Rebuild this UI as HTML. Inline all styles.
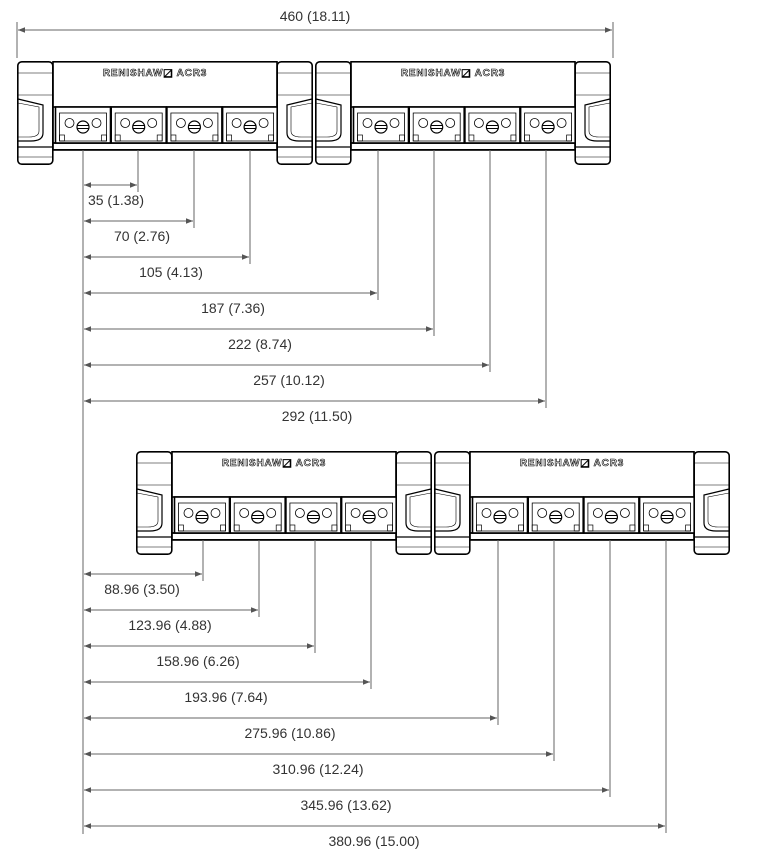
<!DOCTYPE html>
<html><head><meta charset="utf-8"><style>
body{margin:0;background:#fff;}
svg{display:block;font-family:"Liberation Sans",sans-serif;}
.t{font-size:14px;fill:#333;text-anchor:middle;}
.d{stroke:#666;stroke-width:1;fill:none;}
</style></head><body>
<svg width="760" height="866" viewBox="0 0 760 866" xmlns="http://www.w3.org/2000/svg">
<defs>
<marker id="a" viewBox="0 0 10 10" refX="10" refY="5" markerWidth="10" markerHeight="7" orient="auto-start-reverse" markerUnits="userSpaceOnUse"><path d="M0,1 L10,5 L0,9 z" fill="#555"/></marker>
<g id="port">
<rect x="0" y="0" width="55" height="36" fill="#fff" stroke="#000" stroke-width="1.6"/>
<path d="M4,6 H51 V34 H4 Z" fill="none" stroke="#000" stroke-width="0.8"/>
<circle cx="14" cy="16" r="4.5" fill="#fff" stroke="#000" stroke-width="0.8"/>
<circle cx="41" cy="16" r="4.5" fill="#fff" stroke="#000" stroke-width="0.8"/>
<circle cx="27.5" cy="20" r="6" fill="#fff" stroke="#000" stroke-width="1.2"/>
<line x1="21.5" y1="18.5" x2="33.5" y2="18.5" stroke="#000" stroke-width="1"/>
<line x1="21.5" y1="21.5" x2="33.5" y2="21.5" stroke="#000" stroke-width="1"/>
<rect x="4" y="28" width="5" height="6" fill="none" stroke="#000" stroke-width="0.7"/>
<rect x="46" y="28" width="5" height="6" fill="none" stroke="#000" stroke-width="0.7"/>
</g>
<g id="blk">
<rect x="0.8" y="0.8" width="35" height="102.4" rx="4" fill="#fff" stroke="#000" stroke-width="1.6"/>
<line x1="1" y1="12" x2="36" y2="12" stroke="#000" stroke-width="0.6"/>
<line x1="1" y1="34" x2="36" y2="34" stroke="#000" stroke-width="0.6"/>
<path d="M1,38 L26,44 L26,72 Q26,80 14,80 L1,80" fill="none" stroke="#000" stroke-width="1.2"/>
<path d="M1,42 L22,46 L22,70 Q22,76 12,76 L1,76" fill="none" stroke="#000" stroke-width="0.6"/>
<line x1="1" y1="86" x2="36" y2="86" stroke="#000" stroke-width="1.2"/>
<line x1="1" y1="96" x2="36" y2="96" stroke="#000" stroke-width="0.6"/>
</g>
<g id="mod">
<rect x="36" y="0.8" width="224" height="88" fill="#fff" stroke="#000" stroke-width="1.6"/>
<rect x="36" y="46" width="224" height="36" fill="#fff" stroke="#000" stroke-width="1.6"/>
<line x1="36" y1="82" x2="260" y2="82" stroke="#000" stroke-width="1.6"/>
<line x1="36" y1="89" x2="260" y2="89" stroke="#000" stroke-width="1.6"/>
<use href="#port" x="38.5" y="46"/>
<use href="#port" x="94.2" y="46"/>
<use href="#port" x="149.9" y="46"/>
<use href="#port" x="205.6" y="46"/>
<text x="138" y="15" font-size="10" font-weight="bold" text-anchor="middle" fill="#fff" stroke="#000" stroke-width="0.6" letter-spacing="0.8">RENISHAW◩  ACR3</text>
<use href="#blk" x="0" y="0"/>
<use href="#blk" transform="translate(296,0) scale(-1,1)"/>
</g>
</defs>

<line class="d" x1="17" y1="22" x2="17" y2="58"/>
<line class="d" x1="613" y1="22" x2="613" y2="58"/>
<line class="d" x1="18" y1="30" x2="612" y2="30" marker-start="url(#a)" marker-end="url(#a)"/>
<text class="t" x="315" y="21">460 (18.11)</text>

<use href="#mod" x="17" y="61"/>
<use href="#mod" x="315" y="61"/>

<use href="#mod" x="136" y="451"/>
<use href="#mod" x="434" y="451"/>

<line class="d" x1="83" y1="150" x2="83" y2="834"/>

<g class="d">
<line x1="138" y1="150" x2="138" y2="192"/>
<line x1="194" y1="150" x2="194" y2="228"/>
<line x1="250" y1="150" x2="250" y2="264"/>
<line x1="378" y1="150" x2="378" y2="300"/>
<line x1="434" y1="150" x2="434" y2="336"/>
<line x1="490" y1="150" x2="490" y2="372"/>
<line x1="546" y1="150" x2="546" y2="408"/>
<line x1="84" y1="185" x2="137" y2="185" marker-start="url(#a)" marker-end="url(#a)"/>
<line x1="84" y1="221" x2="193" y2="221" marker-start="url(#a)" marker-end="url(#a)"/>
<line x1="84" y1="257" x2="249" y2="257" marker-start="url(#a)" marker-end="url(#a)"/>
<line x1="84" y1="293" x2="377" y2="293" marker-start="url(#a)" marker-end="url(#a)"/>
<line x1="84" y1="329" x2="433" y2="329" marker-start="url(#a)" marker-end="url(#a)"/>
<line x1="84" y1="365" x2="489" y2="365" marker-start="url(#a)" marker-end="url(#a)"/>
<line x1="84" y1="401" x2="545" y2="401" marker-start="url(#a)" marker-end="url(#a)"/>

<line x1="203" y1="540" x2="203" y2="581"/>
<line x1="259" y1="540" x2="259" y2="617"/>
<line x1="315" y1="540" x2="315" y2="653"/>
<line x1="371" y1="540" x2="371" y2="689"/>
<line x1="498" y1="540" x2="498" y2="725"/>
<line x1="554" y1="540" x2="554" y2="761"/>
<line x1="610" y1="540" x2="610" y2="797"/>
<line x1="666" y1="540" x2="666" y2="833"/>
<line x1="84" y1="574" x2="202" y2="574" marker-start="url(#a)" marker-end="url(#a)"/>
<line x1="84" y1="610" x2="258" y2="610" marker-start="url(#a)" marker-end="url(#a)"/>
<line x1="84" y1="646" x2="314" y2="646" marker-start="url(#a)" marker-end="url(#a)"/>
<line x1="84" y1="682" x2="370" y2="682" marker-start="url(#a)" marker-end="url(#a)"/>
<line x1="84" y1="718" x2="497" y2="718" marker-start="url(#a)" marker-end="url(#a)"/>
<line x1="84" y1="754" x2="553" y2="754" marker-start="url(#a)" marker-end="url(#a)"/>
<line x1="84" y1="790" x2="609" y2="790" marker-start="url(#a)" marker-end="url(#a)"/>
<line x1="84" y1="826" x2="665" y2="826" marker-start="url(#a)" marker-end="url(#a)"/>
</g>

<text class="t" x="116" y="205">35 (1.38)</text>
<text class="t" x="142" y="241">70 (2.76)</text>
<text class="t" x="171" y="277">105 (4.13)</text>
<text class="t" x="233" y="313">187 (7.36)</text>
<text class="t" x="260" y="349">222 (8.74)</text>
<text class="t" x="289" y="385">257 (10.12)</text>
<text class="t" x="317" y="421">292 (11.50)</text>

<text class="t" x="142" y="594">88.96 (3.50)</text>
<text class="t" x="170" y="630">123.96 (4.88)</text>
<text class="t" x="198" y="666">158.96 (6.26)</text>
<text class="t" x="226" y="702">193.96 (7.64)</text>
<text class="t" x="290" y="738">275.96 (10.86)</text>
<text class="t" x="318" y="774">310.96 (12.24)</text>
<text class="t" x="346" y="810">345.96 (13.62)</text>
<text class="t" x="374" y="846">380.96 (15.00)</text>
</svg>
</body></html>
